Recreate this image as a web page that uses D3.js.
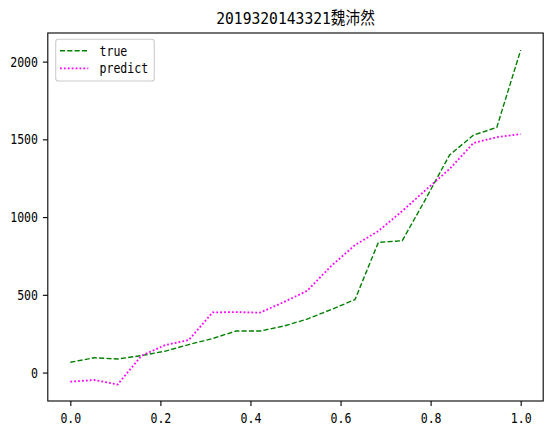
<!DOCTYPE html>
<html>
<head>
<meta charset="utf-8">
<script src="https://cdn.jsdelivr.net/npm/d3@7"></script>
<style>
  body { margin: 0; background: #fff; }
  svg { display: block; }
</style>
</head>
<body>
<div id="chart"></div>
<script>
// x positions (evenly spaced 0..1, 20 samples)
var xVals = [0, 0.053, 0.105, 0.158, 0.211, 0.263, 0.316, 0.368, 0.421, 0.474,
             0.526, 0.579, 0.632, 0.684, 0.737, 0.789, 0.842, 0.895, 0.947, 1.0]
var trueVals = [66, 95, 87, 109, 138, 180, 219, 267, 267, 299,
                344, 405, 469, 837, 848, 1116, 1399, 1527, 1577, 2074]
var predVals = [-59, -48, -77, 108, 177, 209, 387, 389, 385, 453,
                526, 685, 820, 910, 1039, 1174, 1309, 1476, 1514, 1534]
var xTicks = [0, 0.2, 0.4, 0.6, 0.8, 1.0]
var yTicks = [0, 500, 1000, 1500, 2000]
var titleText = "2019320143321魏沛然"
var seriesNames = ["true", "predict"]

const width = 553, height = 433
const plot = { left: 47.8, right: 543.2, top: 33, bottom: 401 }

const mono = "'DejaVu Sans Mono', 'Noto Sans CJK SC', monospace"
const fs = 13.9

// half-width text like SimHei: ascii glyphs 0.5em wide, CJK 1em
function textLen(s, size){
	var n = 0
	for (var ch of s) n += (ch.charCodeAt(0) > 255) ? 1 : 0.5
	return n * size
}

const xScale = d3.scaleLinear().domain([-0.05, 1.05]).range([plot.left, plot.right])
const yScale = d3.scaleLinear().domain([-183, 2184]).range([plot.bottom, plot.top])

var svg = d3.select("#chart").append("svg")
	.attr("width", width)
	.attr("height", height)

svg.append("rect").attr("width", width).attr("height", height).attr("fill", "#fff")

var rows = xVals.map(function(x, i){ return { x: x, t: trueVals[i], p: predVals[i] } })

var lineTrue = d3.line().x(d => xScale(d.x)).y(d => yScale(d.t))
var linePred = d3.line().x(d => xScale(d.x)).y(d => yScale(d.p))

var legendStyle = [
	{ color: "#008000", dash: "5.1,2.2", w: 1.39 },
	{ color: "#ff00ff", dash: "1.8,2.1", w: 1.8 }
]

svg.append("path")
	.datum(rows)
	.attr("d", lineTrue)
	.attr("fill", "none")
	.attr("stroke", legendStyle[0].color)
	.attr("stroke-width", legendStyle[0].w)
	.attr("stroke-dasharray", legendStyle[0].dash)

svg.append("path")
	.datum(rows)
	.attr("d", linePred)
	.attr("fill", "none")
	.attr("stroke", legendStyle[1].color)
	.attr("stroke-width", legendStyle[1].w)
	.attr("stroke-dasharray", legendStyle[1].dash)

// axes
var xAxis = svg.append("g")
	.attr("transform", "translate(0," + plot.bottom + ")")
	.call(d3.axisBottom(xScale).tickValues(xTicks).tickSize(4.9).tickPadding(4.9).tickFormat(d3.format(".1f")))
var yAxis = svg.append("g")
	.attr("transform", "translate(" + plot.left + ",0)")
	.call(d3.axisLeft(yScale).tickValues(yTicks).tickSize(4.9).tickPadding(4.9).tickFormat(d3.format("d")))

;[xAxis, yAxis].forEach(function(ax){
	ax.select(".domain").remove()
	ax.selectAll(".tick line").attr("stroke", "#000").attr("stroke-width", 1.1)
	ax.selectAll(".tick text")
		.style("font-family", mono)
		.style("font-size", fs + "px")
		.attr("fill", "#000")
		.each(function(){
			var t = d3.select(this)
			t.attr("textLength", textLen(t.text(), fs)).attr("lengthAdjust", "spacingAndGlyphs")
		})
})
xAxis.selectAll(".tick text").attr("dy", "0.85em")

// frame
svg.append("rect")
	.attr("x", plot.left).attr("y", plot.top)
	.attr("width", plot.right - plot.left).attr("height", plot.bottom - plot.top)
	.attr("fill", "none").attr("stroke", "#000").attr("stroke-width", 1.1)

// title
svg.append("text")
	.attr("x", (plot.left + plot.right) / 2)
	.attr("y", 23.5)
	.attr("text-anchor", "middle")
	.style("font-family", mono)
	.style("font-size", "16.7px")
	.attr("textLength", textLen(titleText, 16.7))
	.attr("lengthAdjust", "spacingAndGlyphs")
	.text(titleText)

// legend
var lg = svg.append("g")
lg.append("rect")
	.attr("x", 55.7).attr("y", 39.3).attr("width", 98.6).attr("height", 41.7)
	.attr("rx", 2.8)
	.attr("fill", "#fff").attr("fill-opacity", 0.8)
	.attr("stroke", "#cccccc").attr("stroke-width", 1.1)

seriesNames.forEach(function(name, i){
	var yy = 50.7 + i * 17.6
	lg.append("line")
		.attr("x1", 60).attr("x2", 88.3).attr("y1", yy).attr("y2", yy)
		.attr("stroke", legendStyle[i].color)
		.attr("stroke-width", legendStyle[i].w)
		.attr("stroke-dasharray", legendStyle[i].dash)
	lg.append("text")
		.attr("x", 99.5).attr("y", yy + 4.8)
		.style("font-family", mono)
		.style("font-size", fs + "px")
		.attr("textLength", textLen(name, fs))
		.attr("lengthAdjust", "spacingAndGlyphs")
		.text(name)
})
</script>
</body>
</html>
